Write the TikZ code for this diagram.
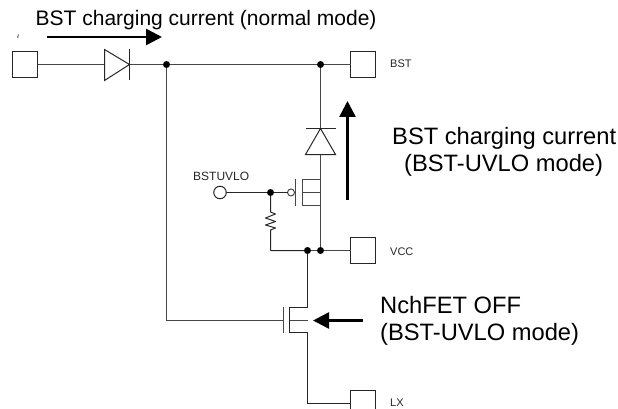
\documentclass[tikz,border=0pt]{standalone}
\usepackage{fontspec}
\setmainfont{Liberation Sans}
\usetikzlibrary{arrows.meta}
\tikzset{
  x=1pt,y=-1pt,
  wire/.style={draw=black!72,line width=1pt},
  thin wire/.style={draw=black!85,line width=1pt},
  pad/.style={draw=black!85,line width=1pt,minimum width=25pt,minimum height=26pt,inner sep=0pt,outer sep=0pt},
  dot/.style={circle,fill=black,inner sep=0pt,minimum size=7pt,outer sep=0pt},
  bigarrow/.style={line width=2.6pt,-{Triangle[length=16pt,width=16pt]}},
  small/.style={font=\fontsize{11}{13}\selectfont,inner sep=0pt,anchor=base west,text=black!85},
  big/.style={font=\fontsize{23.7}{28}\selectfont,inner sep=0pt,anchor=base west},
  top label/.style={font=\fontsize{21}{25}\selectfont,inner sep=0pt,anchor=base west},
}
\begin{document}
\begin{tikzpicture}
\useasboundingbox (0,0) rectangle (618,409);
\path[clip] (0,0) rectangle (618,409);
% pads
\node[pad] (in) at (25,64.5) {};
\node[pad] (bst) at (363,64.5) {};
\node[pad] (vcc) at (363,250.5) {};
\node[pad] (lx) at (363,403.5) {};
% junctions
\node[dot] (j1) at (166.5,64.5) {};
\node[dot] (j2) at (320.5,64.5) {};
\node[dot] (j3) at (270.5,192.5) {};
\node[dot] (j4) at (307.5,250.5) {};
\node[dot] (j5) at (320.5,250.5) {};
\coordinate (d1a) at (104.5,64.5);
\coordinate (d1k) at (129.5,64.5);
\coordinate (d2k) at (320.5,128.5);
\coordinate (d2a) at (320.5,154.5);
% top wires and diode
\draw[wire] (in.east) -- (d1a);
\draw[wire] (d1k) -- (j1);
\draw[wire] (j1) -- (j2);
\draw[wire] (j2) -- (bst.west);
\draw[thin wire] (104.5,49.5) -- (129.5,64.5) -- (104.5,80.5) -- cycle;
\draw[thin wire] (129.5,49) -- (129.5,80.5);
% vertical diode
\draw[wire] (j2) -- (d2k);
\draw[thin wire] (305.5,154.5) -- (320.5,128.5) -- (335.5,154.5) -- cycle;
\draw[thin wire] (305.5,128.5) -- (335.5,128.5);
% PMOS
\coordinate (ptop) at (320.5,179.5);
\coordinate (pbot) at (320.5,205.5);
\coordinate (pmid) at (320.5,192.5);
\draw[wire] (d2a) -- (ptop) -- (302.5,179.5) -- (302.5,205.5) -- (pbot);
\draw[wire] (pmid) -- (302.5,192.5);
\draw[wire] (ptop) -- (j5);
\draw[wire] (295.5,179) -- (295.5,205.5);
\node[circle,draw=black!72,line width=1pt,inner sep=0pt,minimum size=7pt,outer sep=0pt] (bub) at (291,192.5) {};
\node[circle,draw=black!85,line width=1pt,inner sep=0pt,minimum size=12.5pt,outer sep=0pt] (uvlo) at (220,192.5) {};
\draw[thin wire] (uvlo) -- (j3) -- (bub);
\node[small,font=\fontsize{12}{14}\selectfont] (uvlolab) at (193,180) {BSTUVLO};
% resistor and VCC line
\draw[thin wire,line join=round] (j3) -- (270.5,212) -- (275.5,214) -- (265.5,218) -- (275.5,221.5) -- (265.5,225) -- (275.5,228) -- (270.5,230) -- (270.5,250.5) -- (j4);
\draw[wire] (j4) -- (j5) -- (vcc.west);
% NMOS
\coordinate (ntop) at (307.5,307.5);
\coordinate (nbot) at (307.5,332.5);
\coordinate (nmid) at (307.5,320.5);
\coordinate (ngate) at (283.5,320.5);
\draw[thin wire] (j4) -- (ntop) -- (289.5,307.5) -- (289.5,332.5) -- (nbot);
\draw[wire] (nmid) -- (289.5,320.5);
\draw[wire] (j1) |- (ngate);
\draw[wire] (283.5,307) -- (283.5,332.5);
\draw[thin wire] (nbot) |- (lx.west);
% big arrows
\coordinate (a1s) at (47,37);
\coordinate (a1e) at (162,37);
\coordinate (a2s) at (347.5,200);
\coordinate (a2e) at (347.5,101);
\coordinate (a3s) at (363,320.5);
\coordinate (a3e) at (313,320.5);
\draw[bigarrow] (a1s) -- (a1e);
\draw[bigarrow] (a2s) -- (a2e);
\draw[bigarrow] (a3s) -- (a3e);
% stray mark
\draw[black!70,line width=0.9pt] (17.6,38) -- (18.4,34.5);
% labels
\node[top label] (t1) at (35.5,26) {BST charging current (normal mode)};
\node[big] (t2) at (392,144) {BST charging current};
\node[big] (t3) at (404,171) {(BST-UVLO mode)};
\node[big] (t4) at (380,313) {NchFET OFF};
\node[big] (t5) at (380,340) {(BST-UVLO mode)};
\node[small] (l1) at (390,68) {BST};
\node[small] (l2) at (390,255) {VCC};
\node[small] (l3) at (390,406) {LX};
\end{tikzpicture}
\end{document}
